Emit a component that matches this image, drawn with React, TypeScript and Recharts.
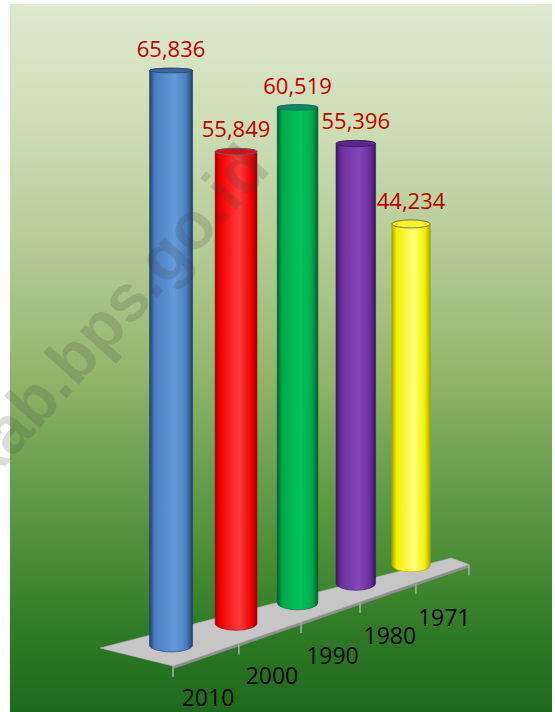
import React from 'react';
import { BarChart, Bar, XAxis, YAxis, LabelList } from 'recharts';

// ---------- data ----------
const categories = ['2010', '2000', '1990', '1980', '1971'];
const populationValues = [65836, 55849, 60519, 55396, 44234];
const valueLabels = ['65,836', '55,849', '60,519', '55,396', '44,234'];

const data = categories.map((year, i) => ({
  year,
  value: populationValues[i],
  label: valueLabels[i],
}));

// ---------- styles ----------
const palettes = [
  { dark: '#22416B', base: '#4A7DBF', light: '#659BDA', top: '#3C679B', rim: '#2C4C78' },
  { dark: '#A00000', base: '#F20000', light: '#FF3C3C', top: '#E60A0A', rim: '#4E6488' },
  { dark: '#00612C', base: '#00A84A', light: '#00C65E', top: '#0C8A62', rim: '#1B6A62' },
  { dark: '#3B185C', base: '#6A2E9C', light: '#8646BA', top: '#5A2888', rim: '#3A2062' },
  { dark: '#A6A600', base: '#F0F000', light: '#FFFF78', top: '#F4F428', rim: '#7C7C52' },
];

// ---------- projection (3D look) ----------
const W = 555;
const H = 712;
const CX0 = 171; // centre of the front category
const STEP = 66.86; // category step at the front
const CH = 0.0286; // horizontal perspective
const CV = 0.033; // vertical perspective
const DY = -22.3; // floor rise per category
const BASE = 645; // front baseline
const Y_MAX = 70000;
const PX_PER_UNIT = 0.008726;
const X_AXIS_H = 30;
const BAR_SIZE = 43;

const MARGIN = {
  top: BASE - Y_MAX * PX_PER_UNIT,
  left: CX0 - STEP / 2,
  right: W - (CX0 - STEP / 2) - STEP * categories.length,
  bottom: H - BASE - X_AXIS_H,
};

const FRONT_OFF = { x: 35.4, y: 9.55 };
const BACK_L = { x: -36.55, y: -8.19 };
const BACK_R = { x: 15.3, y: 2.16 };

const uOf = (cxLin: number) => (cxLin - CX0) / STEP;
const wH = (u: number) => 1 + CH * u;
const axisPoint = (u: number, ox = 0, oy = 0) => {
  const w = wH(u);
  return { x: CX0 + (STEP * u + ox) / w, y: BASE + (DY * u + oy) / w };
};
const ellipseRy = (y: number) => Math.min(7, 2.2 + Math.max(0, y - 60) * 0.011);

const backOffset = (u: number) => {
  const n = categories.length;
  const t = (u + 0.5) / n;
  return { x: BACK_L.x + (BACK_R.x - BACK_L.x) * t, y: BACK_L.y + (BACK_R.y - BACK_L.y) * t };
};

function Cylinder(props: any) {
  const { x, y, width, height } = props;
  if (width == null || height == null || isNaN(x) || isNaN(y)) return null;
  const u = uOf(x + width / 2);
  const base = axisPoint(u);
  const topY = base.y - height / (1 + CV * u);
  const r = width / 2 / wH(u);
  const ryT = ellipseRy(topY);
  const ryB = ellipseRy(base.y);
  const idx = Math.round(u);
  const pal = palettes[((idx % palettes.length) + palettes.length) % palettes.length];
  const gid = `cyl-grad-${idx}`;
  const left = base.x - r;
  const right = base.x + r;
  const d = `M${left},${topY} L${left},${base.y} A${r},${ryB} 0 0 0 ${right},${base.y} L${right},${topY} A${r},${ryT} 0 0 0 ${left},${topY} Z`;
  return (
    <g>
      <defs>
        <linearGradient id={gid} x1="0" y1="0" x2="1" y2="0">
          <stop offset="0" stopColor={pal.dark} />
          <stop offset="0.12" stopColor={pal.base} />
          <stop offset="0.58" stopColor={pal.light} />
          <stop offset="0.86" stopColor={pal.base} />
          <stop offset="1" stopColor={pal.dark} />
        </linearGradient>
      </defs>
      <path d={d} fill={`url(#${gid})`} stroke={pal.dark} strokeWidth={0.6} />
      <ellipse cx={base.x} cy={topY} rx={r} ry={ryT} fill={pal.top} stroke={pal.rim} strokeWidth={1} />
    </g>
  );
}

function FloorPiece(props: any) {
  const { x, width } = props;
  if (x == null || width == null) return null;
  const u = uOf(x + width / 2);
  const idx = Math.round(u);
  const n = categories.length;
  const tickAt = (uu: number) => {
    const p = axisPoint(uu, FRONT_OFF.x, FRONT_OFF.y);
    return <line key={uu} x1={p.x} y1={p.y} x2={p.x} y2={p.y + 11} stroke="#A8A8A8" strokeWidth={1.6} />;
  };
  let floor = null;
  if (idx === 0) {
    const u0 = -0.5;
    const u1 = n - 0.5;
    const bl = axisPoint(u0, backOffset(u0).x, backOffset(u0).y);
    const br = axisPoint(u1, backOffset(u1).x, backOffset(u1).y);
    const fl = axisPoint(u0, FRONT_OFF.x, FRONT_OFF.y);
    const fr = axisPoint(u1, FRONT_OFF.x, FRONT_OFF.y);
    floor = (
      <g>
        <polygon
          points={`${fl.x},${fl.y} ${fr.x},${fr.y} ${fr.x},${fr.y + 3} ${fl.x},${fl.y + 3}`}
          fill="#8E8E8E"
        />
        <polygon
          points={`${br.x},${br.y} ${fr.x},${fr.y} ${fr.x},${fr.y + 3} ${br.x},${br.y + 2}`}
          fill="#9A9A9A"
        />
        <polygon
          points={`${bl.x},${bl.y} ${fl.x},${fl.y} ${fr.x},${fr.y} ${br.x},${br.y}`}
          fill="#C6C6C6"
          stroke="#B4B4B4"
          strokeWidth={0.6}
        />
      </g>
    );
  }
  return (
    <g>
      {floor}
      {tickAt(idx - 0.5)}
      {idx === n - 1 ? tickAt(idx + 0.5) : null}
    </g>
  );
}

function ValueLabel(props: any) {
  const vb = props.viewBox && typeof props.viewBox.x === 'number' ? props.viewBox : props;
  const { x, y, width, height } = vb;
  if (x == null || width == null) return null;
  const u = uOf(x + width / 2);
  const base = axisPoint(u);
  const topY = base.y - height / (1 + CV * u);
  return (
    <text
      x={base.x}
      y={topY - ellipseRy(topY) - 11}
      textAnchor="middle"
      fontFamily="'Open Sans', 'Noto Sans', sans-serif"
      fontSize={22}
      fill="#C00000"
    >
      {props.value}
    </text>
  );
}

function YearTick(props: any) {
  const { x, payload } = props;
  const u = uOf(x);
  const p = axisPoint(u);
  return (
    <text
      x={p.x + 37 / wH(u)}
      y={p.y + 61}
      textAnchor="middle"
      fontFamily="'Open Sans', 'Noto Sans', sans-serif"
      fontSize={23}
      fill="#000000"
    >
      {payload.value}
    </text>
  );
}

export default function App() {
  return (
    <div
      style={{
        position: 'absolute',
        left: 0,
        top: 0,
        width: W,
        height: H,
        overflow: 'hidden',
        background: '#FFFFFF',
      }}
    >
      <div
        style={{
          position: 'absolute',
          left: 10,
          top: 4,
          width: 542,
          height: 708,
          background:
            'linear-gradient(to bottom, #DEE9D0 0%, #CCDDB4 18%, #AEC78E 38%, #93B56C 52%, #6A9F50 66%, #468A33 80%, #2C7824 90%, #1C6A1C 100%)',
        }}
      />
      <div style={{ position: 'absolute', left: 0, top: 0 }}>
        <BarChart width={W} height={H} data={data} margin={MARGIN}>
          <XAxis
            dataKey="year"
            height={X_AXIS_H}
            axisLine={false}
            tickLine={false}
            interval={0}
            tick={(p: any) => <YearTick {...p} />}
          />
          <YAxis hide type="number" domain={[0, Y_MAX]} />
          <Bar
            dataKey="value"
            barSize={BAR_SIZE}
            isAnimationActive={false}
            shape={(p: any) => <Cylinder {...p} />}
            background={(p: any) => <FloorPiece {...p} />}
          >
            <LabelList dataKey="label" content={(p: any) => <ValueLabel {...p} />} />
          </Bar>
        </BarChart>
      </div>
      <svg
        width={W}
        height={H}
        style={{ position: 'absolute', left: 0, top: 0, pointerEvents: 'none' }}
      >
        <text
          transform="translate(272,170) rotate(-48)"
          textAnchor="end"
          fontFamily="'Liberation Sans', Arial, sans-serif"
          fontWeight="bold"
          fontSize={66}
          fill="#3C3C3C"
          fillOpacity={0.18}
        >
          kab.bps.go.id
        </text>
      </svg>
    </div>
  );
}
